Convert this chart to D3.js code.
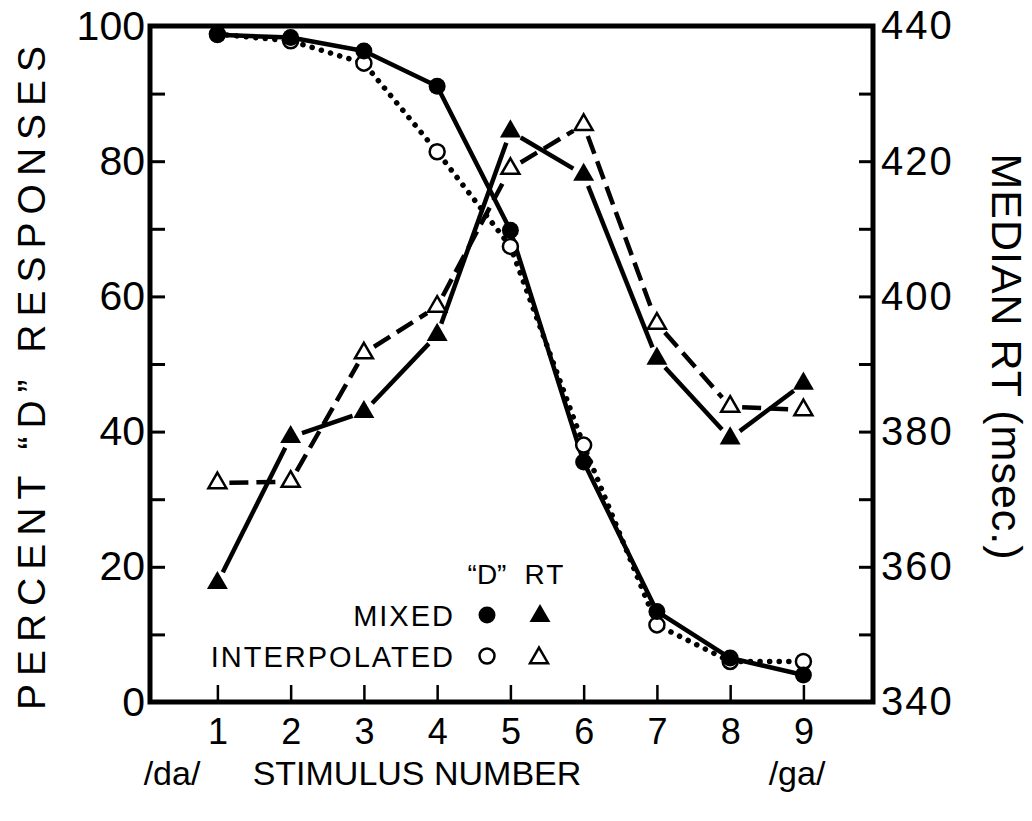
<!DOCTYPE html>
<html>
<head>
<meta charset="utf-8">
<script src="https://cdn.jsdelivr.net/npm/d3@7"></script>
<style>
	body { margin: 0; background: #fff; }
	svg { display: block; }
	text { font-family: 'Liberation Sans', Arial, sans-serif; fill: #000; }
</style>
</head>
<body>
<div class="chart"></div>
<script>
// stimulus continuum /da/ .. /ga/
const stimulus = [1, 2, 3, 4, 5, 6, 7, 8, 9];
// percent "D" responses
const mixedPct = [98.7, 98.3, 96.3, 91.1, 69.8, 35.5, 13.4, 6.5, 4.0];
const interpPct = [98.8, 97.8, 94.5, 81.4, 67.4, 38.0, 11.4, 6.0, 6.0];
// median RT (msec)
const mixedRT = [357.6, 379.2, 382.9, 394.3, 424.4, 418.0, 390.8, 379.0, 387.1];
const interpRT = [372.4, 372.6, 391.6, 398.5, 418.9, 425.4, 396.0, 383.7, 383.2];
// axis ticks
const pctTicks = [0, 10, 20, 30, 40, 50, 60, 70, 80, 90, 100];
const rtTicks = [340, 350, 360, 370, 380, 390, 400, 410, 420, 430, 440];

function drawChart() {
	let width = 1032,
		height = 821,
		margin = { top: 26, left: 150 },
		plotW = 723,
		plotH = 676,
		xScale = d3.scaleLinear().domain([0.08, 9.95]).range([0, plotW]),
		yPct = d3.scaleLinear().domain([0, 100]).range([plotH, 0]),
		yRT = d3.scaleLinear().domain([340, 440]).range([plotH, 0]),
		svg = null,
		g = null;

	svg = d3.select('.chart').append('svg')
		.attr('width', width)
		.attr('height', height);

	g = svg.append('g').attr('transform', 'translate(' + margin.left + ',' + margin.top + ')');

	// left axis, ticks pointing inward
	g.append('g')
		.attr('class', 'axisY')
		.call(d3.axisLeft(yPct).tickValues(pctTicks).tickSize(-15).tickSizeOuter(0).tickPadding(5)
			.tickFormat(function (d) { return d % 20 === 0 ? d : ''; }))
		.attr('font-size', 41)
		.attr('font-family', 'Liberation Sans, Arial, sans-serif');

	// right axis
	g.append('g')
		.attr('class', 'axisY2')
		.attr('transform', 'translate(' + plotW + ',0)')
		.call(d3.axisRight(yRT).tickValues(rtTicks).tickSize(-14).tickSizeOuter(0).tickPadding(8)
			.tickFormat(function (d) { return d % 20 === 0 ? d : ''; }))
		.attr('font-size', 40)
		.attr('font-family', 'Liberation Sans, Arial, sans-serif')
		.attr('letter-spacing', 2);

	// bottom axis
	g.append('g')
		.attr('class', 'axisX')
		.attr('transform', 'translate(0,' + plotH + ')')
		.call(d3.axisBottom(xScale).tickValues(stimulus).tickSize(-17).tickSizeOuter(0).tickPadding(16))
		.attr('font-size', 36)
		.attr('font-family', 'Liberation Sans, Arial, sans-serif');

	g.selectAll('.domain').remove();
	g.selectAll('.tick line').attr('stroke', '#000').attr('stroke-width', 3);
	g.selectAll('.axisX .tick line').attr('stroke-width', 2.5);

	// frame
	g.append('rect')
		.attr('x', 0)
		.attr('y', 0)
		.attr('width', plotW)
		.attr('height', plotH)
		.attr('fill', 'none')
		.attr('stroke', '#000')
		.attr('stroke-width', 5);

	let pctLine = d3.line()
		.x(function (d, i) { return xScale(stimulus[i]); })
		.y(function (d) { return yPct(d); });

	// interpolated % : dotted
	g.append('path')
		.datum(interpPct)
		.attr('fill', 'none')
		.attr('stroke', '#000')
		.attr('stroke-width', 5.5)
		.attr('stroke-linecap', 'round')
		.attr('stroke-dasharray', '0.1 9.5')
		.attr('d', pctLine);

	// mixed % : solid
	g.append('path')
		.datum(mixedPct)
		.attr('fill', 'none')
		.attr('stroke', '#000')
		.attr('stroke-width', 4.5)
		.attr('stroke-linejoin', 'round')
		.attr('d', pctLine);

	// RT lines are broken off short of each marker
	function rtSegments(values, gap) {
		let segs = [];
		for (let i = 0; i < values.length - 1; i++) {
			let x1 = xScale(stimulus[i]), y1 = yRT(values[i]),
				x2 = xScale(stimulus[i + 1]), y2 = yRT(values[i + 1]),
				len = Math.hypot(x2 - x1, y2 - y1),
				ux = (x2 - x1) / len, uy = (y2 - y1) / len;
			segs.push([[x1 + ux * gap, y1 + uy * gap], [x2 - ux * gap, y2 - uy * gap]]);
		}
		return segs;
	}

	g.selectAll('.rt-interp')
		.data(rtSegments(interpRT, 12))
		.enter().append('path')
		.attr('class', 'rt-interp')
		.attr('fill', 'none')
		.attr('stroke', '#000')
		.attr('stroke-width', 4.5)
		.attr('stroke-dasharray', '19 8')
		.attr('d', d3.line());

	g.selectAll('.rt-mixed')
		.data(rtSegments(mixedRT, 12))
		.enter().append('path')
		.attr('class', 'rt-mixed')
		.attr('fill', 'none')
		.attr('stroke', '#000')
		.attr('stroke-width', 4.5)
		.attr('d', d3.line());

	let tri = d3.symbol().type(d3.symbolTriangle);

	// markers
	g.selectAll('.c-interp')
		.data(interpPct)
		.enter().append('circle')
		.attr('class', 'c-interp')
		.attr('cx', function (d, i) { return xScale(stimulus[i]); })
		.attr('cy', function (d) { return yPct(d); })
		.attr('r', 7.5)
		.attr('fill', '#fff')
		.attr('stroke', '#000')
		.attr('stroke-width', 2.5);

	g.selectAll('.c-mixed')
		.data(mixedPct)
		.enter().append('circle')
		.attr('class', 'c-mixed')
		.attr('cx', function (d, i) { return xScale(stimulus[i]); })
		.attr('cy', function (d) { return yPct(d); })
		.attr('r', 8.5)
		.attr('fill', '#000');

	g.selectAll('.t-interp')
		.data(interpRT)
		.enter().append('path')
		.attr('class', 't-interp')
		.attr('transform', function (d, i) { return 'translate(' + xScale(stimulus[i]) + ',' + yRT(d) + ')'; })
		.attr('d', tri.size(140))
		.attr('fill', '#fff')
		.attr('stroke', '#000')
		.attr('stroke-width', 2.5);

	g.selectAll('.t-mixed')
		.data(mixedRT)
		.enter().append('path')
		.attr('class', 't-mixed')
		.attr('transform', function (d, i) { return 'translate(' + xScale(stimulus[i]) + ',' + yRT(d) + ')'; })
		.attr('d', tri.size(190))
		.attr('fill', '#000');

	// legend
	let legend = svg.append('g').attr('class', 'legend');
	legend.append('text').attr('x', 487).attr('y', 584).attr('text-anchor', 'middle')
		.attr('font-size', 28).text('\u201CD\u201D');
	legend.append('text').attr('x', 545).attr('y', 584).attr('text-anchor', 'middle')
		.attr('font-size', 28).attr('letter-spacing', 2).text('RT');
	legend.append('text').attr('x', 455).attr('y', 626).attr('text-anchor', 'end')
		.attr('font-size', 29).attr('letter-spacing', 2).text('MIXED');
	legend.append('text').attr('x', 455).attr('y', 667).attr('text-anchor', 'end')
		.attr('font-size', 29).attr('letter-spacing', 2).text('INTERPOLATED');
	legend.append('circle').attr('cx', 487).attr('cy', 615).attr('r', 8.5).attr('fill', '#000');
	legend.append('path').attr('transform', 'translate(540,616)').attr('d', tri.size(190)).attr('fill', '#000');
	legend.append('circle').attr('cx', 487).attr('cy', 656).attr('r', 7.5)
		.attr('fill', '#fff').attr('stroke', '#000').attr('stroke-width', 2.5);
	legend.append('path').attr('transform', 'translate(539,658)').attr('d', tri.size(140))
		.attr('fill', '#fff').attr('stroke', '#000').attr('stroke-width', 2.5);

	// axis titles
	svg.append('text')
		.attr('transform', 'translate(45,374) rotate(-90)')
		.attr('text-anchor', 'middle')
		.attr('font-size', 39)
		.attr('letter-spacing', 8)
		.text('PERCENT \u201CD\u201D RESPONSES');

	svg.append('text')
		.attr('transform', 'translate(992,357) rotate(90)')
		.attr('text-anchor', 'middle')
		.attr('font-size', 43)
		.attr('letter-spacing', 1)
		.text('MEDIAN RT (msec.)');

	svg.append('text')
		.attr('x', 172).attr('y', 785)
		.attr('text-anchor', 'middle')
		.attr('font-size', 34)
		.text('/da/');

	svg.append('text')
		.attr('x', 417).attr('y', 785)
		.attr('text-anchor', 'middle')
		.attr('font-size', 34)
		.text('STIMULUS NUMBER');

	svg.append('text')
		.attr('x', 797).attr('y', 785)
		.attr('text-anchor', 'middle')
		.attr('font-size', 34)
		.text('/ga/');
}

drawChart();
</script>
</body>
</html>
